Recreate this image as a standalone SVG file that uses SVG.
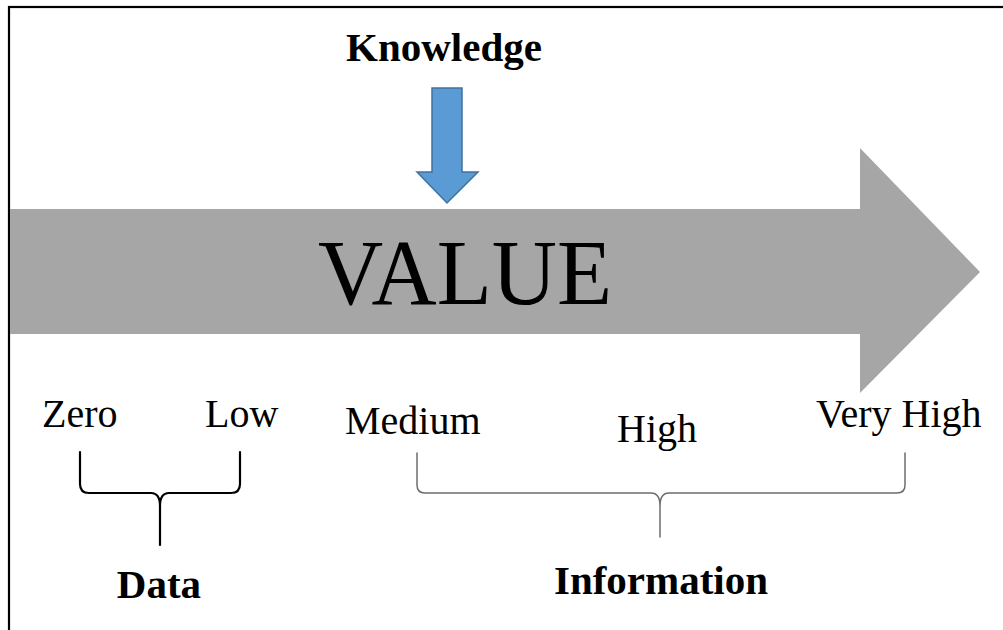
<svg xmlns="http://www.w3.org/2000/svg" width="1003" height="630" viewBox="0 0 1003 630">
  <style>
    .lbl { font-family: "Liberation Serif", "Times New Roman", serif; font-size: 40px; fill: #000; }
    .bold { font-family: "Liberation Serif", "Times New Roman", serif; font-size: 41px; font-weight: bold; fill: #000; text-anchor: middle; }
    .brace { fill: none; stroke-linejoin: round; stroke-linecap: round; }
  </style>
  <rect x="0" y="0" width="1003" height="630" fill="#fff"/>
  <rect id="frame" x="9" y="7" width="1010" height="640" fill="none" stroke="#000" stroke-width="2.2"/>

  <g id="value-arrow">
    <polygon points="10,209 860,209 860,148 980,272 860,393 860,334 10,334" fill="#a6a6a6"/>
    <text x="465" y="304" font-family="Liberation Serif, Times New Roman, serif" font-size="94" text-anchor="middle" textLength="294" lengthAdjust="spacingAndGlyphs" fill="#000">VALUE</text>
  </g>

  <g id="knowledge">
    <text class="bold" x="444" y="61">Knowledge</text>
    <polygon points="432,88 462,88 462,172 478,172 447,203 417,172 432,172" fill="#5b9bd5" stroke="#41719c" stroke-width="1.5"/>
  </g>

  <g id="level-labels">
    <text class="lbl" x="42" y="427">Zero</text>
    <text class="lbl" x="205" y="427">Low</text>
    <text class="lbl" x="345" y="434">Medium</text>
    <text class="lbl" x="617" y="442">High</text>
    <text class="lbl" x="816" y="427">Very High</text>
  </g>

  <g id="connectors">
    <path class="brace" stroke="#000" stroke-width="2.2" d="M80,452 V484 Q80,493 89,493 H151 Q160,493 160,506 V545 M240,452 V484 Q240,493 231,493 H169 Q160,493 160,506"/>
    <path class="brace" stroke="#6e6e6e" stroke-width="1.5" d="M417,453 V485 Q417,493 425,493 H651 Q660,493 660,506 V537 M905,453 V485 Q905,493 897,493 H669 Q660,493 660,506"/>
  </g>

  <g id="data">
    <text class="bold" x="159" y="598">Data</text>
  </g>
  <g id="information">
    <text class="bold" x="661" y="594">Information</text>
  </g>
</svg>
